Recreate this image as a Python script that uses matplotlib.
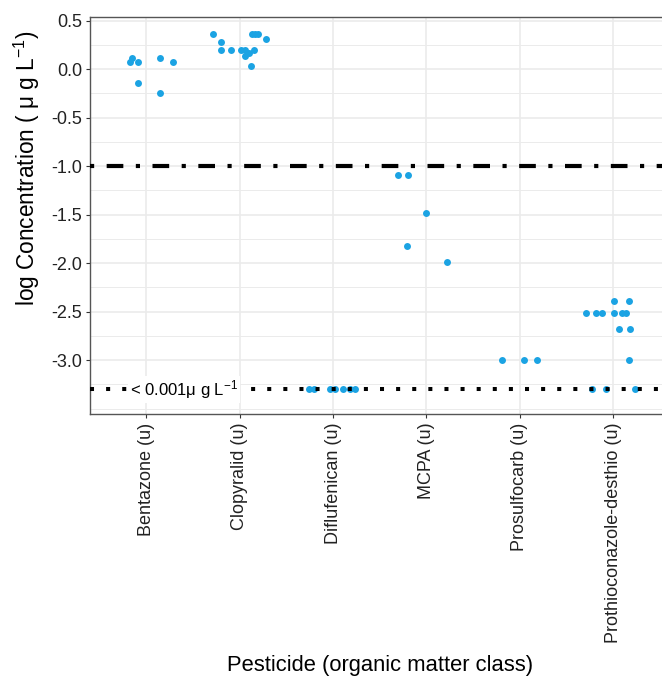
import matplotlib
matplotlib.use("Agg")
import matplotlib.pyplot as plt

pesticides = ["Bentazone (u)", "Clopyralid (u)", "Diflufenican (u)",
              "MCPA (u)", "Prosulfocarb (u)", "Prothioconazole-desthio (u)"]

# jitter offset from the category centre, and log concentration
bentazone_x = [-0.18, -0.15, -0.09, -0.09, 0.15, 0.28, 0.15]
bentazone_y = [0.07, 0.12, 0.07, -0.14, 0.12, 0.07, -0.25]

clopyralid_x = [-0.29, -0.20, -0.20, -0.09, 0.01, 0.06, 0.06, 0.10, 0.15,
                0.13, 0.16, 0.19, 0.28, 0.12]
clopyralid_y = [0.36, 0.28, 0.20, 0.20, 0.20, 0.20, 0.14, 0.17, 0.20,
                0.36, 0.36, 0.36, 0.31, 0.03]

diflufenican_x = [-0.26, -0.20, -0.03, 0.02, 0.11, 0.18, 0.24]
diflufenican_y = [-3.3, -3.3, -3.3, -3.3, -3.3, -3.3, -3.3]

mcpa_x = [-0.30, -0.20, 0.00, -0.21, 0.22]
mcpa_y = [-1.09, -1.09, -1.48, -1.82, -1.99]

prosulfocarb_x = [-0.19, 0.05, 0.18]
prosulfocarb_y = [-3.0, -3.0, -3.0]

prothio_x = [0.01, 0.17, -0.29, -0.18, -0.12, 0.01, 0.10, 0.14, 0.06, 0.18,
             0.17, -0.23, -0.07, 0.24]
prothio_y = [-2.39, -2.39, -2.51, -2.51, -2.51, -2.51, -2.51, -2.51, -2.68,
             -2.68, -3.0, -3.3, -3.3, -3.3]

y_ticks = [0.5, 0.0, -0.5, -1.0, -1.5, -2.0, -2.5, -3.0]
y_tick_labels = ["0.5", "0.0", "-0.5", "-1.0", "-1.5", "-2.0", "-2.5", "-3.0"]
y_minor = [0.25, -0.25, -0.75, -1.25, -1.75, -2.25, -2.75, -3.25, -3.5]

limit_high = -1.0
limit_low = -3.3

POINT_COLOR = "#1BA3E3"
GRID_COLOR = "#EBEBEB"


def main():
    plt.rcParams["font.family"] = ["Liberation Sans", "DejaVu Sans"]
    plt.rcParams["mathtext.fontset"] = "custom"
    plt.rcParams["mathtext.rm"] = "Liberation Sans"
    plt.rcParams["mathtext.it"] = "Liberation Sans:italic"
    plt.rcParams["mathtext.bf"] = "Liberation Sans:bold"

    fig = plt.figure(figsize=(6.62, 6.79), dpi=100)
    ax = fig.add_axes([0.1367, 0.3898, 0.8739, 0.5856])

    groups = [(bentazone_x, bentazone_y), (clopyralid_x, clopyralid_y),
              (diflufenican_x, diflufenican_y), (mcpa_x, mcpa_y),
              (prosulfocarb_x, prosulfocarb_y), (prothio_x, prothio_y)]
    for i, (dx, vals) in enumerate(groups):
        xs = [i + 1 + d for d in dx]
        ax.scatter(xs, vals, s=25, color=POINT_COLOR, linewidths=0, zorder=3)

    ax.axhline(limit_high, color="black", lw=3.0, ls=(0, (1, 3, 4, 3)),
               dash_capstyle="butt", zorder=4)
    ax.axhline(limit_low, color="black", lw=2.9, ls=(0, (1, 3)),
               dash_capstyle="butt", zorder=4)
    ax.text(1.4, limit_low, "< 0.001μ g L$^{-1}$", fontsize=12, ha="center",
            va="center", zorder=5,
            bbox=dict(facecolor="white", edgecolor="none", pad=1.5))

    ax.set_xlim(0.4, 6.6)
    ax.set_ylim(-3.558, 0.541)

    ax.set_xticks(range(1, len(pesticides) + 1))
    ax.set_xticklabels(pesticides, rotation=90, ha="center", va="top")
    ax.set_yticks(y_ticks)
    ax.set_yticklabels(y_tick_labels)
    ax.set_yticks(y_minor, minor=True)

    ax.grid(True, which="major", color=GRID_COLOR, lw=1.2, zorder=0)
    ax.grid(True, which="minor", axis="y", color=GRID_COLOR, lw=0.7, zorder=0)
    ax.set_axisbelow(True)
    ax.tick_params(which="minor", length=0)
    ax.tick_params(which="major", length=3, width=0.8, color="#333333",
                   labelsize=13, labelcolor="#222222", pad=3)

    for sp in ax.spines.values():
        sp.set_color("#555555")
        sp.set_linewidth(1.0)

    ax.set_xlabel("Pesticide (organic matter class)", fontsize=15.8)
    ax.xaxis.set_label_coords(0.5, -0.6305)
    ax.xaxis.label.set_va("center")
    ax.set_ylabel("log Concentration ( μ g L$^{-1}$)", fontsize=16.3)
    ax.yaxis.set_label_coords(-0.11, 0.619)
    ax.yaxis.label.set_va("center")

    fig.savefig("out.png", dpi=100)


if __name__ == "__main__":
    main()
